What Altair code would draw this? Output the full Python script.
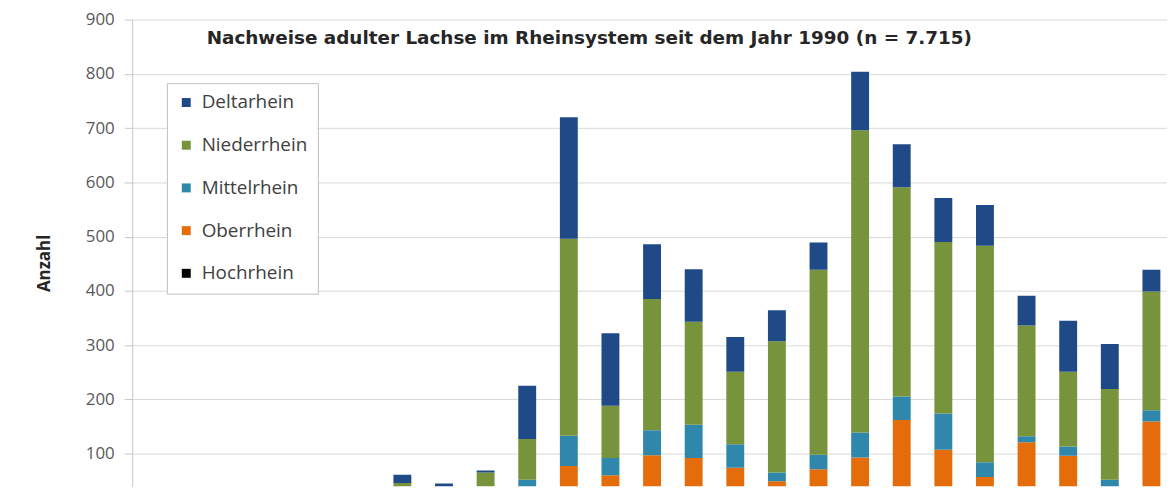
import altair as alt
import pandas as pd

# ---- data (bottom of chart is cropped at ~38) ----
years = [str(y) for y in range(1990, 2015)]
hochrhein   = [0, 0, 0, 0, 0, 0, 0, 0, 0, 0, 0, 0, 0, 0, 0, 0, 0, 0, 0, 0, 0, 0, 0, 0, 0]
oberrhein   = [0, 0, 0, 0, 1, 2, 5, 8, 6, 14, 77, 60, 97, 92, 74, 49, 71, 93, 162, 107, 57, 121, 96, 30, 159]
mittelrhein = [0, 0, 0, 1, 2, 3, 5, 6, 6, 38, 56, 32, 46, 61, 43, 16, 27, 46, 43, 67, 27, 11, 17, 22, 21]
niederrhein = [1, 2, 4, 6, 10, 14, 36, 18, 53, 75, 363, 96, 242, 190, 134, 242, 341, 557, 386, 316, 399, 204, 138, 167, 219]
deltarhein  = [0, 1, 2, 3, 5, 6, 15, 13, 4, 98, 224, 134, 101, 97, 64, 57, 50, 108, 79, 81, 75, 55, 94, 83, 40]

legend_order = ["Deltarhein", "Niederrhein", "Mittelrhein", "Oberrhein", "Hochrhein"]
colors = ["#1f4a87", "#77933c", "#2f87ab", "#e46c0a", "#000000"]
y_ticks = [100, 200, 300, 400, 500, 600, 700, 800, 900]

series = [
    ("Hochrhein", hochrhein, 0),
    ("Oberrhein", oberrhein, 1),
    ("Mittelrhein", mittelrhein, 2),
    ("Niederrhein", niederrhein, 3),
    ("Deltarhein", deltarhein, 4),
]
rows = []
for i, y in enumerate(years):
    for name, vals, o in series:
        rows.append({"Jahr": y, "Region": name, "Anzahl": vals[i], "ord": o})
df = pd.DataFrame(rows)

FONT = "Open Sans"

chart = alt.Chart(df).mark_bar(clip=True).encode(
    x=alt.X("Jahr:N", sort=years,
            scale=alt.Scale(paddingInner=0.57, paddingOuter=0.279, range=[0, 1047]),
            axis=None),
    y=alt.Y("Anzahl:Q", stack="zero",
            scale=alt.Scale(domain=[39.6, 900], nice=False, zero=False),
            axis=alt.Axis(values=y_ticks, title="Anzahl",
                          titleFont=FONT, titleFontSize=17, titleFontWeight="bold",
                          titleColor="#262626", titleX=-88, titleY=245,
                          titleAlign="center", titleBaseline="middle", titleAngle=270,
                          labelFont=FONT, labelFontSize=17, labelColor="#595959",
                          labelPadding=10, tickSize=8, tickColor="#c8c8c8",
                          domainColor="#c8c8c8", gridColor="#d9d9d9", grid=True)),
    color=alt.Color("Region:N",
                    scale=alt.Scale(domain=legend_order, range=colors),
                    legend=alt.Legend(orient="none", legendX=35, legendY=64, title=None,
                                      symbolType="square", symbolSize=81,
                                      symbolStrokeWidth=0,
                                      labelFont=FONT, labelFontSize=19,
                                      labelColor="#404040", labelOffset=6,
                                      rowPadding=23, padding=10,
                                      fillColor="white", strokeColor="#bfbfbf")),
    order=alt.Order("ord:Q", sort="ascending"),
).properties(
    width=1042,
    height=470,
    autosize=alt.AutoSizeParams(type="none"),
    padding={"left": 125, "top": 10, "right": 0, "bottom": 0},
    background="white",
    title=alt.TitleParams(
        "Nachweise adulter Lachse im Rheinsystem seit dem Jahr 1990 (n = 7.715)",
        font="DejaVu Sans", fontSize=18.5, fontWeight="bold", color="#262626",
        anchor="start", frame="group", dx=75, offset=-37),
).configure_view(stroke=None)

chart.save("out.html", embed_options={"renderer": "svg", "actions": False})
